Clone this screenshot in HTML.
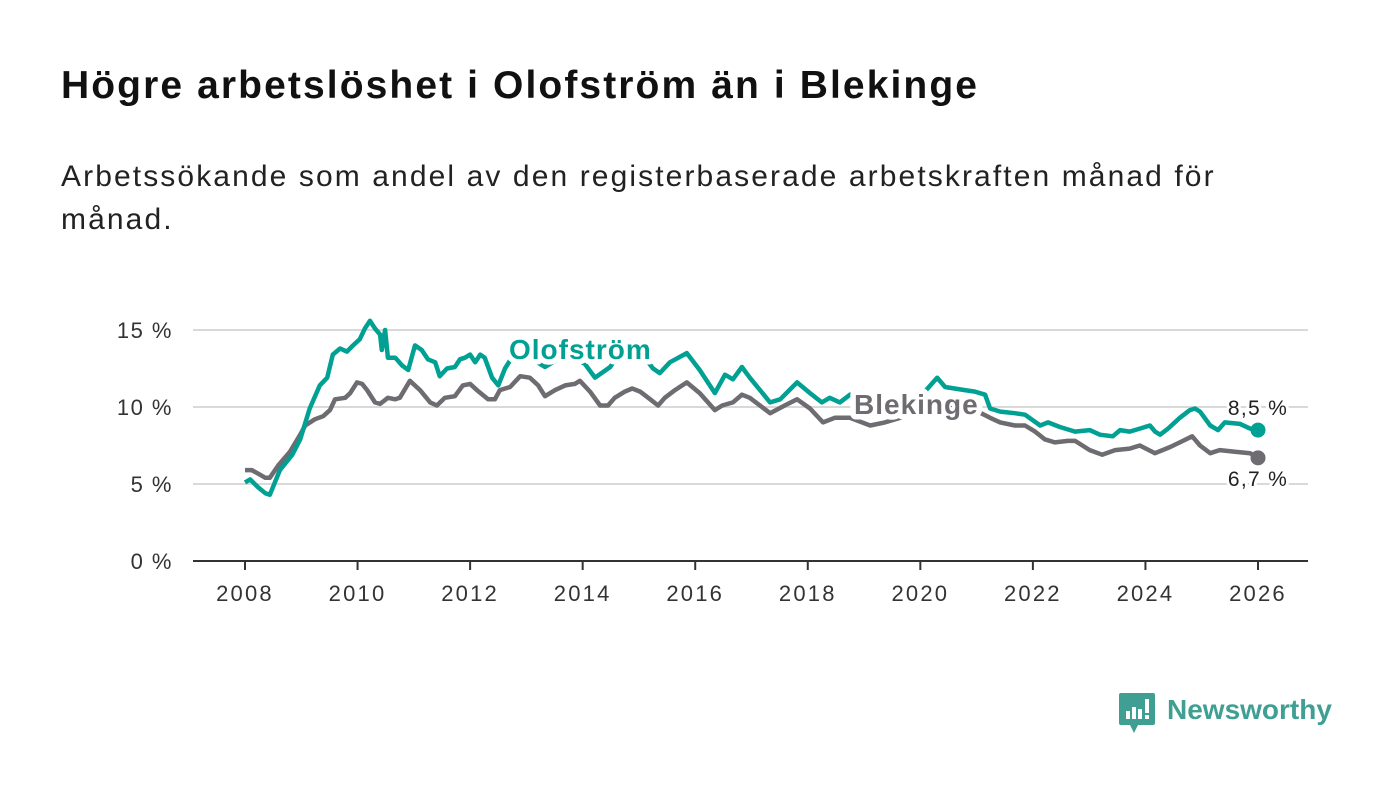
<!DOCTYPE html>
<html><head><meta charset="utf-8">
<style>
body{margin:0;background:#fff;width:1400px;height:794px;overflow:hidden;font-family:"Liberation Sans","DejaVu Sans",sans-serif;}
#title{position:absolute;left:61px;top:64px;font-size:39px;letter-spacing:2.1px;font-weight:bold;color:#111;margin:0;white-space:nowrap;}
#sub{position:absolute;left:61px;top:155px;font-size:30px;letter-spacing:2.1px;color:#222;line-height:43px;width:1300px;margin:0;white-space:nowrap;}
svg{position:absolute;left:0;top:0;}
</style></head><body>
<h1 id="title">Högre arbetslöshet i Olofström än i Blekinge</h1>
<p id="sub">Arbetssökande som andel av den registerbaserade arbetskraften månad för<br>månad.</p>
<svg id="chart" width="1400" height="794"></svg>
<script>
const yTicks=[0,5,10,15];
const xTicks=[2008,2010,2012,2014,2016,2018,2020,2022,2024,2026];
const olYears=[2008.00,2008.09,2008.23,2008.36,2008.44,2008.62,2008.84,2008.98,2009.15,2009.33,2009.46,2009.56,2009.69,2009.81,2009.92,2010.04,2010.13,2010.22,2010.31,2010.40,2010.43,2010.49,2010.54,2010.67,2010.79,2010.90,2011.02,2011.14,2011.25,2011.38,2011.46,2011.59,2011.73,2011.82,2011.91,2012.00,2012.09,2012.18,2012.26,2012.39,2012.50,2012.62,2012.74,2012.89,2013.15,2013.33,2013.51,2013.77,2014.04,2014.22,2014.49,2014.75,2015.02,2015.25,2015.37,2015.55,2015.85,2016.08,2016.35,2016.53,2016.67,2016.83,2016.97,2017.33,2017.51,2017.81,2018.04,2018.25,2018.39,2018.57,2018.75,2019.11,2019.46,2019.82,2020.08,2020.30,2020.44,2020.79,2020.97,2021.15,2021.24,2021.42,2021.68,2021.86,2022.13,2022.27,2022.48,2022.75,2023.01,2023.19,2023.42,2023.55,2023.72,2023.90,2024.08,2024.17,2024.26,2024.40,2024.61,2024.79,2024.88,2024.97,2025.15,2025.29,2025.41,2025.68,2025.86,2026.00];
const olValues=[5.1,5.3,4.8,4.4,4.3,5.9,6.9,7.9,9.9,11.4,11.9,13.4,13.8,13.6,14.0,14.4,15.1,15.6,15.1,14.7,13.7,15.0,13.2,13.2,12.7,12.4,14.0,13.7,13.1,12.9,12.0,12.5,12.6,13.1,13.2,13.4,12.9,13.4,13.2,11.9,11.4,12.5,13.2,13.5,13.0,12.6,13.0,13.3,12.8,11.9,12.6,14.0,13.6,12.5,12.2,12.9,13.5,12.4,10.9,12.1,11.8,12.6,11.9,10.3,10.5,11.6,10.9,10.3,10.6,10.3,10.8,10.3,10.0,10.5,11.0,11.9,11.3,11.1,11.0,10.8,9.9,9.7,9.6,9.5,8.8,9.0,8.7,8.4,8.5,8.2,8.1,8.5,8.4,8.6,8.8,8.4,8.2,8.6,9.3,9.8,9.9,9.7,8.8,8.5,9.0,8.9,8.6,8.5];
const blYears=[2008.00,2008.12,2008.27,2008.36,2008.44,2008.59,2008.80,2008.98,2009.07,2009.24,2009.39,2009.51,2009.60,2009.78,2009.87,2009.99,2010.08,2010.17,2010.31,2010.40,2010.54,2010.67,2010.75,2010.93,2011.11,2011.29,2011.41,2011.55,2011.73,2011.87,2012.00,2012.12,2012.32,2012.44,2012.53,2012.71,2012.89,2013.06,2013.21,2013.33,2013.51,2013.69,2013.86,2013.95,2014.13,2014.31,2014.45,2014.57,2014.75,2014.88,2015.02,2015.20,2015.34,2015.46,2015.64,2015.85,2016.08,2016.35,2016.48,2016.67,2016.83,2016.97,2017.33,2017.59,2017.81,2018.04,2018.27,2018.48,2018.75,2019.11,2019.37,2019.64,2019.99,2020.35,2020.70,2020.97,2021.24,2021.42,2021.68,2021.86,2022.04,2022.21,2022.39,2022.62,2022.75,2023.01,2023.23,2023.46,2023.72,2023.90,2024.17,2024.44,2024.61,2024.83,2024.97,2025.15,2025.32,2025.59,2025.86,2026.00];
const blValues=[5.9,5.9,5.6,5.4,5.4,6.2,7.1,8.2,8.8,9.2,9.4,9.8,10.5,10.6,10.9,11.6,11.5,11.1,10.3,10.2,10.6,10.5,10.6,11.7,11.1,10.3,10.1,10.6,10.7,11.4,11.5,11.1,10.5,10.5,11.1,11.3,12.0,11.9,11.4,10.7,11.1,11.4,11.5,11.7,11.0,10.1,10.1,10.6,11.0,11.2,11.0,10.5,10.1,10.6,11.1,11.6,10.9,9.8,10.1,10.3,10.8,10.6,9.6,10.1,10.5,9.9,9.0,9.3,9.3,8.8,9.0,9.3,9.6,10.2,10.0,9.8,9.3,9.0,8.8,8.8,8.4,7.9,7.7,7.8,7.8,7.2,6.9,7.2,7.3,7.5,7.0,7.4,7.7,8.1,7.5,7.0,7.2,7.1,7.0,6.7];

const NS='http://www.w3.org/2000/svg';
const svg=document.getElementById('chart');
const X=y=>245+(y-2008)*(1258-245)/18;
const Y=v=>561-v*15.4;
function el(t,a,txt){const e=document.createElementNS(NS,t);for(const k in a)e.setAttribute(k,a[k]);if(txt!==undefined)e.textContent=txt;svg.appendChild(e);return e;}

yTicks.forEach(t=>{
  if(t>0){const g=el('line',{x1:193,x2:1308,y1:Y(t),y2:Y(t),stroke:'#d9d9d9','stroke-width':2});
  
  }
  const l=el('text',{x:173,y:Y(t)+8,'text-anchor':'end','font-size':22,'letter-spacing':1.5,fill:'#333'},t+' %');
  
  
});
const ax=el('line',{x1:193,x2:1308,y1:561,y2:561,stroke:'#333','stroke-width':2});


xTicks.forEach(t=>{
  const tk=el('line',{x1:X(t),x2:X(t),y1:561,y2:570,stroke:'#333','stroke-width':2});
  
  
  const l=el('text',{x:X(t),y:601,'text-anchor':'middle','font-size':22,'letter-spacing':2.2,fill:'#333'},t);
  
  
});
function line(ys,vs,c,name){
  const d=ys.map((y,i)=>(i?'L':'M')+X(y).toFixed(1)+','+Y(vs[i]).toFixed(1)).join('');
  const p=el('path',{d:d,fill:'none',stroke:c,'stroke-width':4.5,'stroke-linejoin':'round'});
  
  
  const n=ys.length-1;
  const c2=el('circle',{cx:X(ys[n]),cy:Y(vs[n]),r:7.5,fill:c});
  
  
}
line(blYears,blValues,'#6e6b71','blekinge');
line(olYears,olValues,'#00a093','olofstrom');
const halo={'stroke':'#fff','stroke-width':11,'paint-order':'stroke','stroke-linejoin':'round','font-weight':'bold','font-size':28,'letter-spacing':1};
let t=el('text',Object.assign({x:509,y:359,fill:'#00a093'},halo),'Olofström');


t=el('text',Object.assign({x:854,y:414,fill:'#6e6b71'},halo),'Blekinge');


const vh={'stroke':'#fff','stroke-width':6,'paint-order':'stroke','font-size':21,'letter-spacing':1.3,fill:'#222','text-anchor':'middle'};
const on=olValues.length-1, bn=blValues.length-1;
t=el('text',Object.assign({x:X(olYears[on]),y:Y(olValues[on])-15},vh),olValues[on].toFixed(1).replace('.',',')+' %');


t=el('text',Object.assign({x:X(blYears[bn]),y:Y(blValues[bn])+28},vh),blValues[bn].toFixed(1).replace('.',',')+' %');


const lg=el('g',{});


lg.innerHTML='<path d="M1121,693 h32 a2,2 0 0 1 2,2 v28 a2,2 0 0 1 -2,2 h-15 l-4,8 l-4,-8 h-9 a2,2 0 0 1 -2,-2 v-28 a2,2 0 0 1 2,-2z" fill="#3f9f92"/><rect x="1126" y="711" width="4" height="8" fill="#fff"/><rect x="1132" y="707" width="4" height="12" fill="#fff"/><rect x="1138" y="709" width="4" height="10" fill="#fff"/><rect x="1145" y="699" width="4" height="14" fill="#fff"/><rect x="1145" y="715" width="4" height="4" fill="#fff"/><text x="1167" y="719" font-size="28" font-weight="bold" fill="#3f9f92">Newsworthy</text>';
</script>
</body></html>
